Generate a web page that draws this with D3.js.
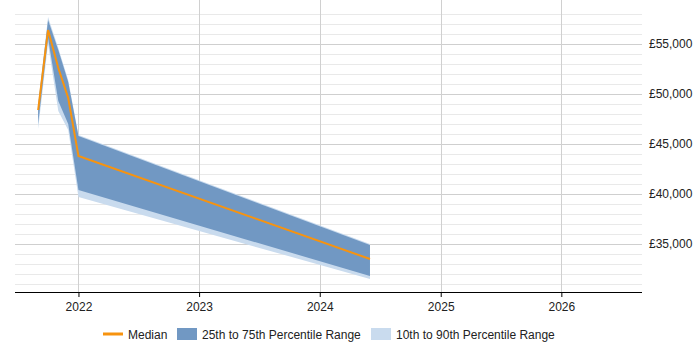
<!DOCTYPE html>
<html>
<head>
<meta charset="utf-8">
<script src="https://cdn.jsdelivr.net/npm/d3@7"></script>
<style>
  html, body { margin: 0; padding: 0; background: #fff; }
  svg { display: block; }
  text { font-family: "Liberation Sans", Arial, sans-serif; }
</style>
</head>
<body>
<svg id="chart" width="700" height="350"></svg>
<script>
// ---- data ----
const dates   = ["2021-09-01", "2021-10-01", "2021-11-01", "2021-12-01", "2022-01-01", "2024-06-01"];
const p10     = [46500, 55000, 48300, 46400, 39700, 31500];
const p25     = [47000, 55600, 49300, 47000, 40400, 31800];
const median  = [48400, 56400, 52600, 49600, 43800, 33500];
const p75     = [48800, 57400, 54400, 51200, 45800, 34900];
const p90     = [49000, 57700, 54600, 51400, 45900, 35000];
const yTickValues = [35000, 40000, 45000, 50000, 55000];
const xTickYears  = [2022, 2023, 2024, 2025, 2026];
const legendLabels = ["Median", "25th to 75th Percentile Range", "10th to 90th Percentile Range"];

const colors = { median: "#f7930f", iqr: "#7198c3", outer: "#c9dbee" };

const parse = d3.timeParse("%Y-%m-%d");
const rows = dates.map((d, i) => ({
  date: parse(d), p10: p10[i], p25: p25[i], med: median[i], p75: p75[i], p90: p90[i]
}));

const svg = d3.select("#chart");
const pLeft = 15, pRight = 642, pTop = 6, pBottom = 292;

const x = d3.scaleTime()
  .domain([new Date(2021, 5, 23), new Date(2026, 8, 2)])
  .range([pLeft, pRight]);
const y = d3.scaleLinear().domain([30200, 58800]).range([pBottom, pTop]);

// minor gridlines
const minor = d3.range(31000, 58001, 1000).filter(v => v % 5000 !== 0);
svg.append("g").selectAll("line").data(minor).join("line")
  .attr("x1", pLeft).attr("x2", pRight)
  .attr("y1", d => Math.round(y(d)) + 0.5).attr("y2", d => Math.round(y(d)) + 0.5)
  .attr("stroke", "#e9e9e9").attr("stroke-width", 1);

// major gridlines
svg.append("g").selectAll("line").data(yTickValues).join("line")
  .attr("x1", pLeft).attr("x2", pRight)
  .attr("y1", d => Math.round(y(d)) + 0.5).attr("y2", d => Math.round(y(d)) + 0.5)
  .attr("stroke", "#cfcfcf").attr("stroke-width", 1);

// vertical year gridlines
const yearDates = xTickYears.map(yr => new Date(yr, 0, 1));
svg.append("g").selectAll("line").data(yearDates).join("line")
  .attr("x1", d => Math.round(x(d)) + 0.5).attr("x2", d => Math.round(x(d)) + 0.5)
  .attr("y1", 0).attr("y2", pBottom)
  .attr("stroke", "#d0d0d0").attr("stroke-width", 1);

// bands
const area10 = d3.area().x(d => x(d.date)).y0(d => y(d.p10)).y1(d => y(d.p90));
const area25 = d3.area().x(d => x(d.date)).y0(d => y(d.p25)).y1(d => y(d.p75));
svg.append("path").datum(rows).attr("d", area10).attr("fill", colors.outer);
svg.append("path").datum(rows).attr("d", area25).attr("fill", colors.iqr);

// median
const line = d3.line().x(d => x(d.date)).y(d => y(d.med));
svg.append("path").datum(rows).attr("d", line)
  .attr("fill", "none").attr("stroke", colors.median).attr("stroke-width", 2)
  .attr("stroke-linejoin", "miter");

// x axis
const xAxis = d3.axisBottom(x).tickValues(yearDates).tickFormat(d3.timeFormat("%Y"))
  .tickSize(5).tickSizeOuter(0);
const gx = svg.append("g").attr("transform", `translate(0,${pBottom})`).call(xAxis);
gx.select(".domain").attr("stroke", "#000").attr("d", `M${pLeft},0.5H${pRight}`);
gx.selectAll(".tick line").attr("stroke", "#000");
gx.selectAll(".tick text").attr("font-size", 12).attr("fill", "#222").attr("dy", "0.95em")
  .attr("font-family", "Liberation Sans, Arial, sans-serif");

// y axis labels (right)
const yAxis = d3.axisRight(y).tickValues(yTickValues)
  .tickFormat(d => "£" + d3.format(",")(d)).tickSize(0).tickPadding(7);
const gy = svg.append("g").attr("transform", `translate(${pRight},0)`).call(yAxis);
gy.select(".domain").remove();
gy.selectAll(".tick text").attr("font-size", 12).attr("fill", "#222")
  .attr("font-family", "Liberation Sans, Arial, sans-serif");

// legend
const lg = svg.append("g").attr("font-size", 12);
const ly = 334;
lg.append("line").attr("x1", 103).attr("x2", 123).attr("y1", ly).attr("y2", ly)
  .attr("stroke", colors.median).attr("stroke-width", 3);
lg.append("text").attr("x", 128).attr("y", ly + 4.5).text(legendLabels[0]).attr("fill", "#222");
lg.append("rect").attr("x", 177).attr("y", ly - 6).attr("width", 20).attr("height", 12).attr("fill", colors.iqr);
lg.append("text").attr("x", 202).attr("y", ly + 4.5).text(legendLabels[1]).attr("fill", "#222");
lg.append("rect").attr("x", 371).attr("y", ly - 6).attr("width", 20).attr("height", 12).attr("fill", colors.outer);
lg.append("text").attr("x", 396).attr("y", ly + 4.5).text(legendLabels[2]).attr("fill", "#222");
</script>
</body>
</html>
